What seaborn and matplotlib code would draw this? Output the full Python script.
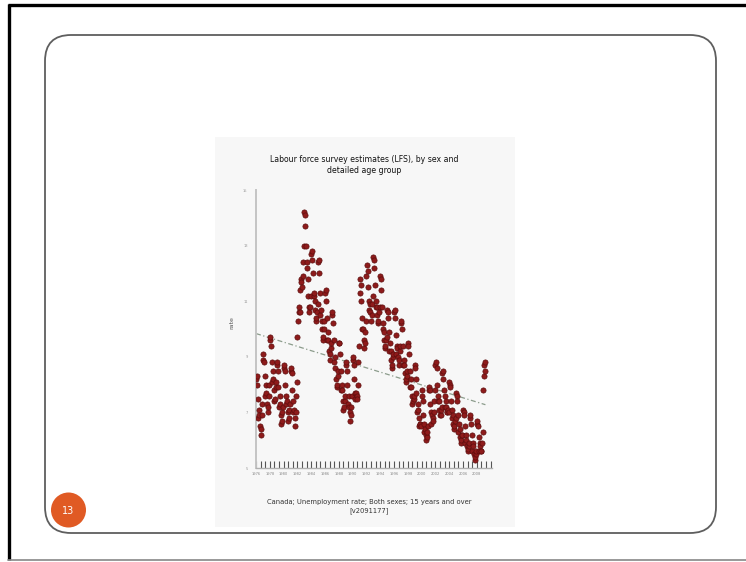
import numpy as np
import pandas as pd
import matplotlib
matplotlib.use("Agg")
import matplotlib.pyplot as plt
import seaborn as sns
from matplotlib.patches import FancyBboxPatch, Rectangle, Circle
from matplotlib.ticker import MultipleLocator, FixedLocator

# ---------------- data (monthly, not seasonally adjusted, %) ----------------
start_year = 1976
rate_1976_1981 = [
    8.2, 8.3, 8.0, 7.5, 6.8, 7.1, 6.9, 6.5, 6.2, 6.4, 6.9, 7.3,
    8.9, 9.1, 8.8, 8.3, 7.6, 8.0, 7.7, 7.3, 7.0, 7.2, 7.6, 8.0,
    9.6, 9.7, 9.4, 8.8, 8.1, 8.5, 8.2, 7.8, 7.4, 7.5, 7.9, 8.1,
    8.7, 8.8, 8.5, 7.9, 7.2, 7.6, 7.3, 6.9, 6.6, 6.7, 7.0, 7.2,
    8.6, 8.7, 8.5, 8.0, 7.3, 7.6, 7.4, 7.0, 6.7, 6.8, 7.1, 7.3,
    8.5, 8.6, 8.4, 7.8, 7.0, 7.4, 7.1, 6.8, 6.5, 7.0, 7.6, 8.1,
]
rate_1982_1987 = [
    9.7, 10.3, 10.6, 10.8, 10.6, 11.4, 11.8, 11.7, 11.5, 11.9, 12.4, 13.0,
    14.2, 14.1, 13.7, 13.0, 12.2, 12.4, 11.8, 11.2, 10.8, 10.6, 10.8, 11.2,
    12.7, 12.8, 12.5, 12.0, 11.2, 11.3, 11.0, 10.7, 10.3, 10.4, 10.6, 10.9,
    12.4, 12.5, 12.0, 11.3, 10.5, 10.7, 10.3, 10.0, 9.6, 9.7, 10.0, 10.3,
    11.3, 11.4, 11.0, 10.4, 9.6, 9.9, 9.6, 9.2, 8.9, 9.1, 9.3, 9.5,
    10.5, 10.6, 10.2, 9.6, 8.8, 9.0, 8.6, 8.2, 7.9, 8.0, 8.3, 8.5,
]
rate_1988_1993 = [
    9.5, 9.5, 9.1, 8.5, 7.8, 8.0, 7.8, 7.4, 7.1, 7.2, 7.4, 7.6,
    8.7, 8.8, 8.5, 8.0, 7.3, 7.6, 7.2, 7.0, 6.7, 6.9, 7.2, 7.6,
    8.9, 9.0, 8.7, 8.2, 7.5, 7.7, 7.7, 7.6, 7.5, 8.0, 8.8, 9.4,
    11.3, 11.8, 11.6, 11.0, 10.0, 10.4, 10.0, 9.6, 9.3, 9.5, 9.9, 10.3,
    11.9, 12.3, 12.1, 11.5, 10.7, 11.0, 10.9, 10.6, 10.3, 10.5, 10.9, 11.2,
    12.6, 12.5, 12.2, 11.6, 10.8, 11.0, 10.8, 10.5, 10.2, 10.3, 10.6, 10.8,
]
rate_1994_1999 = [
    11.9, 11.8, 11.4, 10.8, 10.0, 10.2, 9.9, 9.6, 9.3, 9.4, 9.6, 9.7,
    10.7, 10.6, 10.4, 9.9, 9.2, 9.5, 9.2, 8.9, 8.6, 8.7, 9.0, 9.1,
    10.6, 10.7, 10.4, 9.8, 9.1, 9.4, 9.3, 9.0, 8.7, 8.9, 9.2, 9.4,
    10.2, 10.3, 10.0, 9.4, 8.7, 8.9, 8.7, 8.4, 8.1, 8.2, 8.3, 8.5,
    9.5, 9.4, 9.1, 8.5, 7.9, 8.2, 7.9, 7.6, 7.3, 7.4, 7.5, 7.6,
    8.7, 8.6, 8.2, 7.7, 7.0, 7.3, 7.1, 6.8, 6.5, 6.6, 6.6, 6.5,
]
rate_2000_2005 = [
    7.8, 7.6, 7.4, 6.9, 6.3, 6.6, 6.4, 6.2, 6.0, 6.1, 6.3, 6.5,
    7.8, 7.9, 7.8, 7.3, 6.6, 7.0, 6.9, 6.8, 6.7, 7.0, 7.4, 7.8,
    8.7, 8.8, 8.6, 8.0, 7.4, 7.6, 7.4, 7.1, 6.9, 6.9, 7.1, 7.2,
    8.4, 8.5, 8.2, 7.8, 7.2, 7.6, 7.4, 7.2, 7.0, 7.0, 7.1, 7.0,
    8.1, 8.0, 7.9, 7.4, 6.8, 7.1, 6.9, 6.6, 6.4, 6.5, 6.7, 6.8,
    7.7, 7.6, 7.4, 6.9, 6.3, 6.6, 6.4, 6.1, 5.9, 6.0, 6.2, 6.2,
]
rate_2006_2009 = [
    7.1, 7.0, 6.9, 6.5, 5.9, 6.2, 6.0, 5.8, 5.6, 5.7, 5.8, 5.9,
    6.8, 6.9, 6.6, 6.2, 5.6, 5.9, 5.8, 5.5, 5.3, 5.4, 5.5, 5.6,
    6.6, 6.7, 6.5, 6.1, 5.6, 5.9, 5.8, 5.6, 5.6, 5.9, 6.3, 7.8,
    8.3, 8.7, 8.8, 8.5,
]
year_ticks = list(range(1976, 2009, 2))
y_ticks = [5, 7, 9, 11, 13, 15]

title = "Labour force survey estimates (LFS), by sex and\ndetailed age group"
x_label = "Canada; Unemployment rate; Both sexes; 15 years and over\n[v2091177]"
y_label = "rate"
slide_number = "13"

rates = (rate_1976_1981 + rate_1982_1987 + rate_1988_1993 +
         rate_1994_1999 + rate_2000_2005 + rate_2006_2009)
dates = pd.date_range(f"{start_year}-01-01", periods=len(rates), freq="MS")
df = pd.DataFrame({"date": dates, "rate": rates})
df["t"] = df["date"].dt.year + (df["date"].dt.month - 1) / 12.0

# ---------------- figure ----------------
sns.set_theme(style="white")
plt.rcParams["font.family"] = ["DejaVu Sans"]
W, H = 746, 562
fig = plt.figure(figsize=(W / 100, H / 100), dpi=100)
fig.patch.set_facecolor("white")

# slide background layer in pixel coordinates
bg = fig.add_axes([0, 0, 1, 1], zorder=0)
bg.set_xlim(0, W)
bg.set_ylim(H, 0)
bg.axis("off")
# outer frame
bg.plot([8.5, 8.5], [4, 560], color="black", lw=2.4, solid_capstyle="butt")
bg.plot([8, W], [4.5, 4.5], color="black", lw=2.4, solid_capstyle="butt")
bg.plot([8, W], [560, 560], color="#888888", lw=1.2)
# rounded slide box
bg.add_patch(FancyBboxPatch((45, 35), 671, 498,
                            boxstyle="round,pad=0,rounding_size=26",
                            facecolor="white", edgecolor="#5e5e5e", lw=1.3))
# chart panel
bg.add_patch(Rectangle((215, 137), 300, 390, facecolor="#f7f7f7", edgecolor="none"))
# slide number
bg.add_patch(Circle((68.5, 510), 17.5, facecolor="#e05a24", edgecolor="none"))
bg.text(68.5, 510.5, slide_number, color="white", fontsize=7, ha="center", va="center")

# chart title / labels
bg.text(364, 165, title, ha="center", va="center", fontsize=5.6, color="#111111",
        linespacing=1.35)
bg.text(369, 506.5, x_label, ha="center", va="center", fontsize=4.9, color="#333333",
        linespacing=1.35)
bg.text(232, 323, y_label, ha="center", va="center", rotation=90, fontsize=4.5, color="#555555")

# ---------------- chart axes ----------------
x0, x1 = 256, 491.5
y0, y1 = 468, 190
ax = fig.add_axes([x0 / W, (H - y0) / H, (x1 - x0) / W, (y0 - y1) / H], zorder=2)
ax.set_facecolor("none")

sns.regplot(data=df, x="t", y="rate", ax=ax, ci=None, truncate=True,
            scatter_kws=dict(s=14, color="#8e1b1b", edgecolor="#5c0d0d", linewidths=0.5,
                             alpha=1, zorder=3),
            line_kws=dict(color="#8c9c8c", lw=0.9, linestyle=(0, (4, 2, 1, 2)), zorder=2))

px_per_year = 6.9
ax.set_xlim(1976, 1976 + (x1 - x0) / px_per_year)
ax.set_ylim(5, 15)
ax.set_xlabel("")
ax.set_ylabel("")
ax.xaxis.set_major_locator(FixedLocator(year_ticks))
ax.xaxis.set_minor_locator(MultipleLocator(2 / 3))
ax.set_xticklabels([str(y) for y in year_ticks])
ax.set_yticks(y_ticks)
ax.set_yticklabels([str(v) for v in y_ticks])
ax.tick_params(axis="x", which="both", direction="in", length=5, width=0.8,
               color="#555555", labelsize=2.6, labelcolor="#888888", pad=3, bottom=True)
ax.tick_params(axis="y", which="both", direction="in", length=0, labelsize=2.6,
               labelcolor="#999999", pad=6, left=True)
for s in ["top", "right"]:
    ax.spines[s].set_visible(False)
ax.spines["left"].set_color("#c4c4c4")
ax.spines["left"].set_linewidth(1.4)
ax.spines["bottom"].set_color("#b0b0b0")
ax.spines["bottom"].set_linewidth(1.0)

fig.savefig("out.png", dpi=100)
